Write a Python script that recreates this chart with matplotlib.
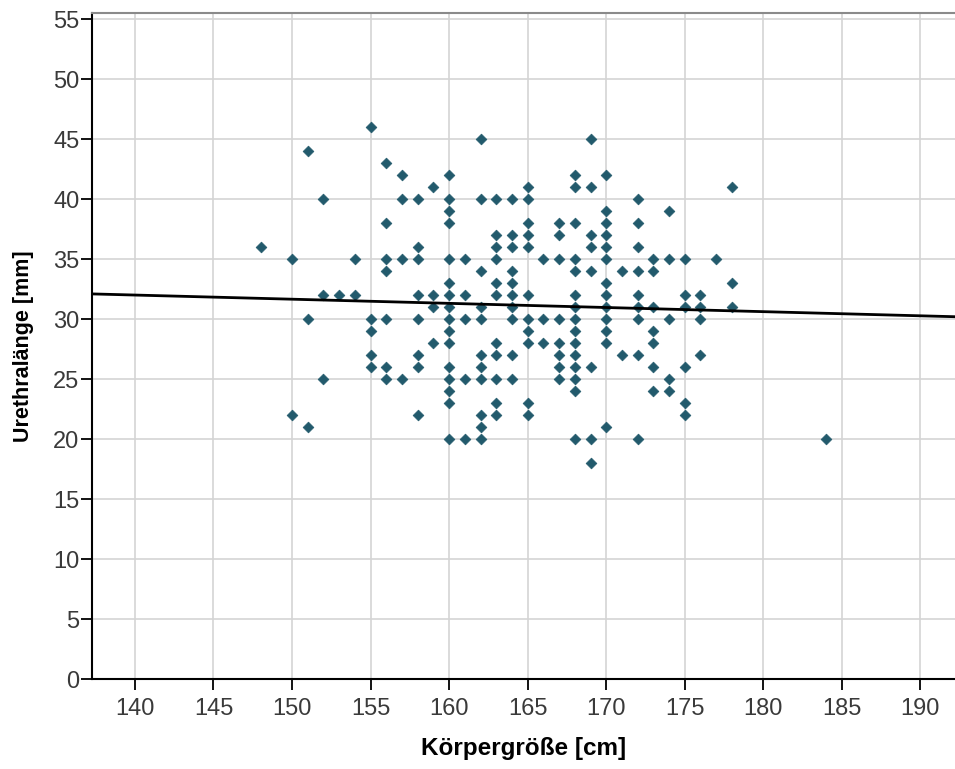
import numpy as np
import matplotlib
matplotlib.use("Agg")
import matplotlib.pyplot as plt

# Körpergröße [cm] -> Urethralänge [mm] values, read column by column
heights = [148, 150, 151, 152, 153, 154, 155, 156, 157, 158, 159, 160, 161,
           162, 163, 164, 165, 166, 167, 168, 169, 170, 171, 172, 173, 174,
           175, 176, 177, 178, 184]
lengths = [
    [36],
    [35, 22],
    [44, 30, 21],
    [40, 32, 25],
    [32],
    [35, 32],
    [46, 30, 29, 27, 26],
    [43, 38, 35, 34, 30, 26, 25],
    [42, 40, 35, 25],
    [40, 36, 35, 32, 30, 27, 26, 22],
    [41, 32, 31, 28],
    [42, 40, 39, 38, 35, 33, 32, 31, 30, 29, 28, 26, 25, 24, 23, 20],
    [35, 32, 30, 25, 20],
    [45, 40, 34, 31, 30, 27, 26, 25, 22, 21, 20],
    [40, 37, 36, 35, 33, 32, 28, 27, 25, 23, 22],
    [40, 37, 36, 34, 33, 32, 31, 30, 27, 25],
    [41, 40, 38, 37, 36, 32, 30, 29, 28, 23, 22],
    [35, 30, 28],
    [38, 37, 35, 30, 28, 27, 26, 25],
    [42, 41, 38, 35, 34, 32, 31, 30, 29, 28, 27, 26, 25, 24, 20],
    [45, 41, 37, 36, 34, 26, 20, 18],
    [42, 39, 38, 37, 36, 35, 33, 32, 31, 30, 29, 28, 21],
    [34, 27],
    [40, 38, 36, 34, 32, 31, 30, 27, 20],
    [35, 34, 31, 29, 28, 26, 24],
    [39, 35, 30, 25, 24],
    [35, 32, 31, 26, 23, 22],
    [32, 31, 30, 27],
    [35],
    [41, 33, 31],
    [20],
]
# Anpassungslinie (überlagerte Punkte nicht sichtbar)
fit_intercept = 36.84
fit_slope = -0.0346

x_ticks = list(range(140, 195, 5))
y_ticks = list(range(0, 60, 5))

x = np.array([h for h, col in zip(heights, lengths) for _ in col], dtype=float)
y = np.array([v for col in lengths for v in col], dtype=float)

plt.rcParams['font.family'] = ['Liberation Sans', 'DejaVu Sans']

fig = plt.figure(figsize=(9.55, 7.69), dpi=100)
ax = fig.add_axes([92 / 955, 1 - 679 / 769, 1 - 92 / 955, (679 - 13) / 769])

ax.set_xlim(137.27, 192.2)
ax.set_ylim(0, 55.5)
ax.set_xticks(x_ticks)
ax.set_yticks(y_ticks)
ax.grid(True, color='#d4d4d4', linewidth=1.2)
ax.set_axisbelow(True)

ax.scatter(x, y, marker='D', s=30, color='#225a6c', edgecolors='#225a6c',
           linewidths=0.5, zorder=3)

xl = np.array(ax.get_xlim())
ax.plot(xl, fit_intercept + fit_slope * xl, color='black', linewidth=2, zorder=4)

for side in ['left', 'bottom']:
    ax.spines[side].set_color('black')
    ax.spines[side].set_linewidth(1.5)
ax.spines['top'].set_color('#8a8a8a')
ax.spines['top'].set_linewidth(1.5)
ax.spines['right'].set_visible(False)

ax.tick_params(axis='both', direction='out', length=8, width=1.3,
               colors='black', labelcolor='#3a3a3a', labelsize=17, pad=1)
ax.tick_params(axis='x', pad=6)

ax.set_xlabel('Körpergröße [cm]', fontsize=17.5, fontweight='bold', labelpad=12)
ax.set_ylabel('Urethralänge [mm]', fontsize=15.5, fontweight='bold', labelpad=14)

fig.savefig('out.png', dpi=100)
